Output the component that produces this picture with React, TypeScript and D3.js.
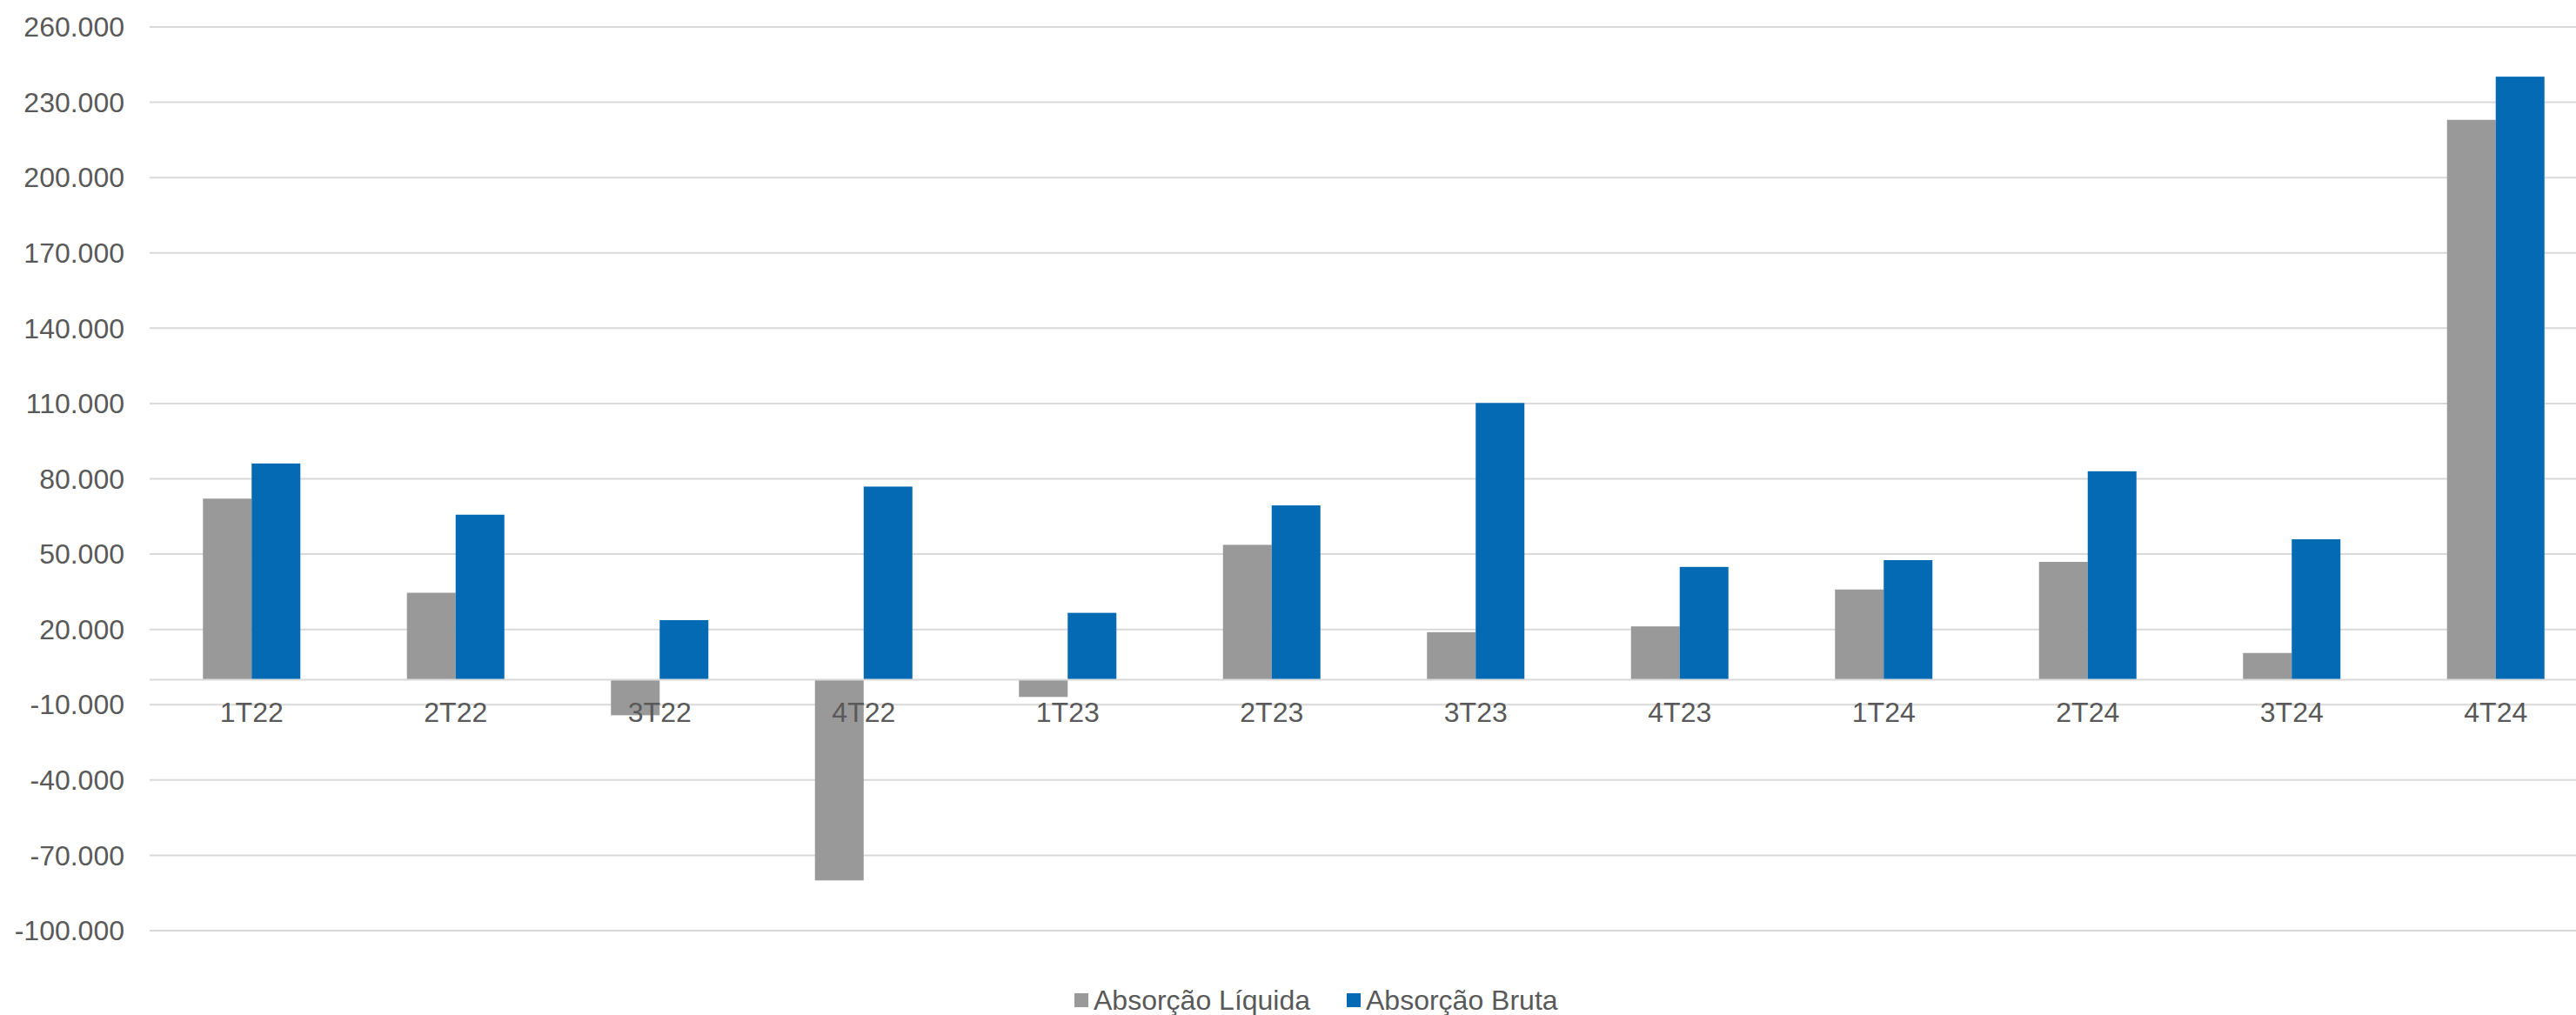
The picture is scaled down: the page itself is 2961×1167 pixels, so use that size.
import React from "react";
import * as d3 from "d3";

const categories = ["1T22","2T22","3T22","4T22","1T23","2T23","3T23","4T23","1T24","2T24","3T24","4T24"];
const absorcaoLiquida = [72100, 34600, -14200, -80000, -6900, 53700, 18900, 21200, 35900, 46900, 10600, 223000];
const absorcaoBruta = [86100, 65700, 23700, 76900, 26600, 69400, 110200, 44900, 47600, 83000, 55900, 240200];
const seriesNames = ["Absorção Líquida", "Absorção Bruta"];
const seriesColors = ["#999999", "#046AB4"];
const yTicks = [-100000, -70000, -40000, -10000, 20000, 50000, 80000, 110000, 140000, 170000, 200000, 230000, 260000];

const W = 2961;
const H = 1167;
const FONT = "'Liberation Sans', Arial, sans-serif";
const TEXT = "#595959";
const GRID = "#d9d9d9";

export default function App() {
  const plotLeft = 172;
  const bandW = 234.5;
  const x = d3.scaleBand<string>().domain(categories).range([plotLeft, plotLeft + bandW * categories.length]).paddingInner(0).paddingOuter(0);
  const groupW = 112;
  const x1 = d3.scaleBand<string>().domain(seriesNames).range([0, groupW]).padding(0);
  const y = d3.scaleLinear().domain([-100000, 260000]).range([1070, 31]);
  const fmt = (v: number) => {
    const s = d3.format(".3f")(Math.abs(v) / 1000);
    return (v < 0 ? "-" : "") + s;
  };
  const series = [absorcaoLiquida, absorcaoBruta];

  const legendItems = [
    { name: seriesNames[0], color: seriesColors[0], x: 1235 },
    { name: seriesNames[1], color: seriesColors[1], x: 1548 },
  ];

  return (
    <svg width={W} height={H} style={{ position: "absolute", left: 0, top: 0, background: "#fff" }} fontFamily={FONT}>
      <rect x={0} y={0} width={W} height={H} fill="#fff" />
      {yTicks.map((t) => (
        <g key={t}>
          <line x1={plotLeft} x2={W} y1={y(t)} y2={y(t)} stroke={GRID} strokeWidth={2} />
          <text x={143} y={y(t)} dy="0.35em" textAnchor="end" fontSize={32} fill={TEXT}>
            {fmt(t)}
          </text>
        </g>
      ))}
      {series.map((vals, si) =>
        categories.map((c, i) => {
          const v = vals[i];
          const cx = (x(c) as number) + x.bandwidth() / 2 - groupW / 2 + (x1(seriesNames[si]) as number);
          const y0 = y(0);
          const yv = y(v);
          return (
            <rect
              key={`${si}-${c}`}
              x={cx}
              y={Math.min(y0, yv)}
              width={x1.bandwidth()}
              height={Math.abs(yv - y0)}
              fill={seriesColors[si]}
            />
          );
        })
      )}
      <line x1={plotLeft} x2={W} y1={y(0)} y2={y(0)} stroke={GRID} strokeWidth={2} />
      {categories.map((c) => (
        <text key={c} x={(x(c) as number) + x.bandwidth() / 2} y={830} textAnchor="middle" fontSize={32} fill={TEXT}>
          {c}
        </text>
      ))}
      {legendItems.map((it) => (
        <g key={it.name}>
          <rect x={it.x} y={1142} width={16} height={16} fill={it.color} />
          <text x={it.x + 22} y={1161} fontSize={32} fill={TEXT}>
            {it.name}
          </text>
        </g>
      ))}
    </svg>
  );
}
